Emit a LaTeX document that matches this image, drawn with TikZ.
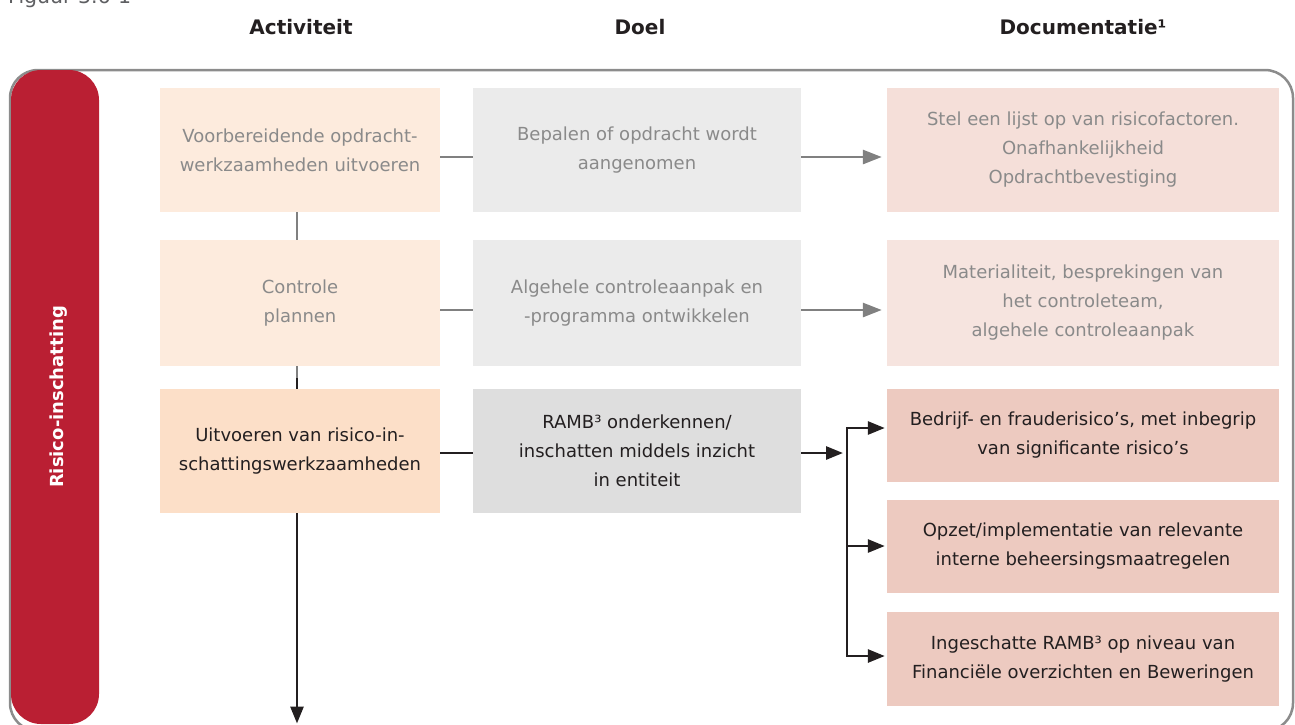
\documentclass[tikz,border=0pt]{standalone}
\usepackage{fontspec}
\setmainfont{DejaVu Sans}
\usetikzlibrary{arrows.meta}

\definecolor{barred}{HTML}{BA1F33}
\definecolor{framegray}{HTML}{8C8C8C}
\definecolor{peachlight}{HTML}{FDEBDD}
\definecolor{peach}{HTML}{FCDFC8}
\definecolor{graylight}{HTML}{EBEBEB}
\definecolor{graymid}{HTML}{DEDEDE}
\definecolor{pinklight}{HTML}{F5DFD9}
\definecolor{pinkpale}{HTML}{F6E4DF}
\definecolor{pink}{HTML}{EDCAC0}
\definecolor{inkdark}{HTML}{231F20}
\definecolor{inkfade}{HTML}{8A8A8A}
\definecolor{linefade}{HTML}{808080}
\definecolor{captiongray}{HTML}{5E5F62}

\newcommand\bodyfont{\fontsize{18}{29}\selectfont}
\newcommand\headfont{\fontsize{20}{24}\selectfont\bfseries}
\newcommand\barfont{\fontsize{18}{22}\selectfont\bfseries}

\begin{document}
\begin{tikzpicture}[x=1pt,y=-1pt,
  cell/.style={inner sep=0pt, align=center, font=\bodyfont},
  faded/.style={cell, text=inkfade},
  strong/.style={cell, text=inkdark},
  head/.style={anchor=base, inner sep=0pt, font=\headfont, text=inkdark},
  fadeline/.style={draw=linefade, line width=2.8pt},
  darkline/.style={draw=inkdark, line width=2.8pt},
  fadearrow/.style={fadeline, -{Triangle[length=19pt,width=14pt]}},
  darkarrow/.style={darkline, -{Triangle[length=17pt,width=13pt]}}]

\useasboundingbox (0,0) rectangle (1295,724);
\clip (0,0) rectangle (1295,724);

% caption, mostly above the page edge
\node[anchor=base west, inner sep=0pt, font=\fontsize{20.5}{24}\selectfont, text=captiongray]
  (caption) at (8,3) {Figuur 3.6-1};

% column headings
\node[head] (hact) at (301,34) {Activiteit};
\node[head] (hdoel) at (640,34) {Doel};
\node[head] (hdoc) at (1083,34) {Documentatie¹};

% outer frame and phase bar
\draw[draw=framegray, line width=2.5pt, rounded corners=28pt] (10,70) rectangle (1293,731);
\node[fill=barred, rounded corners=30pt, inner sep=0pt,
  minimum width=88pt, minimum height=654pt] (bar) at (55,397) {};
\node[rotate=90, text=white, font=\barfont, inner sep=0pt] (barlabel) at ([xshift=4pt]bar.center) {Risico-inschatting};

% activity column
\node[faded, fill=peachlight, minimum width=280pt, minimum height=124pt] (a1) at (300,150)
  {Voorbereidende opdracht-\\werkzaamheden uitvoeren};
\node[faded, fill=peachlight, minimum width=280pt, minimum height=126pt] (a2) at (300,303)
  {Controle\\plannen};
\node[strong, fill=peach, minimum width=280pt, minimum height=124pt] (a3) at (300,451)
  {Uitvoeren van risico-in-\\schattingswerkzaamheden};

% goal column
\node[faded, fill=graylight, minimum width=328pt, minimum height=124pt] (d1) at (637,150)
  {Bepalen of opdracht wordt\\aangenomen};
\node[faded, fill=graylight, minimum width=328pt, minimum height=126pt] (d2) at (637,303)
  {Algehele controleaanpak en\\-programma ontwikkelen};
\node[strong, fill=graymid, minimum width=328pt, minimum height=124pt] (d3) at (637,451)
  {RAMB³ onderkennen/\\inschatten middels inzicht\\in entiteit};

% documentation column
\node[faded, fill=pinklight, minimum width=392pt, minimum height=124pt] (c1) at (1083,150)
  {Stel een lijst op van risicofactoren.\\Onafhankelijkheid\\Opdrachtbevestiging};
\node[faded, fill=pinkpale, minimum width=392pt, minimum height=126pt] (c2) at (1083,303)
  {Materialiteit, besprekingen van\\het controleteam,\\algehele controleaanpak};
\node[strong, fill=pink, minimum width=392pt, minimum height=92.5pt] (c3a) at (1083,435.3)
  {Bedrijf- en frauderisico’s, met inbegrip\\van significante risico’s};
\node[strong, fill=pink, minimum width=392pt, minimum height=92.7pt] (c3b) at (1083,546.4)
  {Opzet/implementatie van relevante\\interne beheersingsmaatregelen};
\node[strong, fill=pink, minimum width=392pt, minimum height=94pt] (c3c) at (1083,659.3)
  {Ingeschatte RAMB³ op niveau van\\Financiële overzichten en Beweringen};

% row connectors
\draw[fadeline] ([yshift=-7pt]a1.east) -- ([yshift=-7pt]d1.west);
\draw[fadearrow, shorten >=5pt] ([yshift=-7pt]d1.east) -- ([yshift=-7pt]c1.west);
\draw[fadeline] ([yshift=-7pt]a2.east) -- ([yshift=-7pt]d2.west);
\draw[fadearrow, shorten >=5pt] ([yshift=-7pt]d2.east) -- ([yshift=-7pt]c2.west);
\draw[darkline] ([yshift=-2pt]a3.east) -- ([yshift=-2pt]d3.west);

% branching to the documentation items
\coordinate (busmid) at (847,453);
\coordinate (bustop) at (847,428);
\coordinate (busctr) at (847,546);
\coordinate (busbot) at (847,656);
\draw[darkarrow, shorten >=4pt] ([yshift=-2pt]d3.east) -- (busmid);
\draw[darkline, line cap=rect] (bustop) -- (busbot);
\draw[darkarrow, shorten >=2pt] (bustop) -- (bustop -| c3a.west);
\draw[darkarrow, shorten >=2pt] (busctr) -- (busctr -| c3b.west);
\draw[darkarrow, shorten >=2pt] (busbot) -- (busbot -| c3c.west);

% activity sequence
\coordinate (seqmid) at (297,378);
\coordinate (seqend) at (297,723.5);
\draw[fadeline] ([xshift=-3pt]a1.south) -- ([xshift=-3pt]a2.north);
\draw[fadeline] ([xshift=-3pt]a2.south) -- (seqmid);
\draw[darkline] (seqmid) -- ([xshift=-3pt]a3.north);
\draw[darkarrow] ([xshift=-3pt]a3.south) -- (seqend);

\end{tikzpicture}
\end{document}
